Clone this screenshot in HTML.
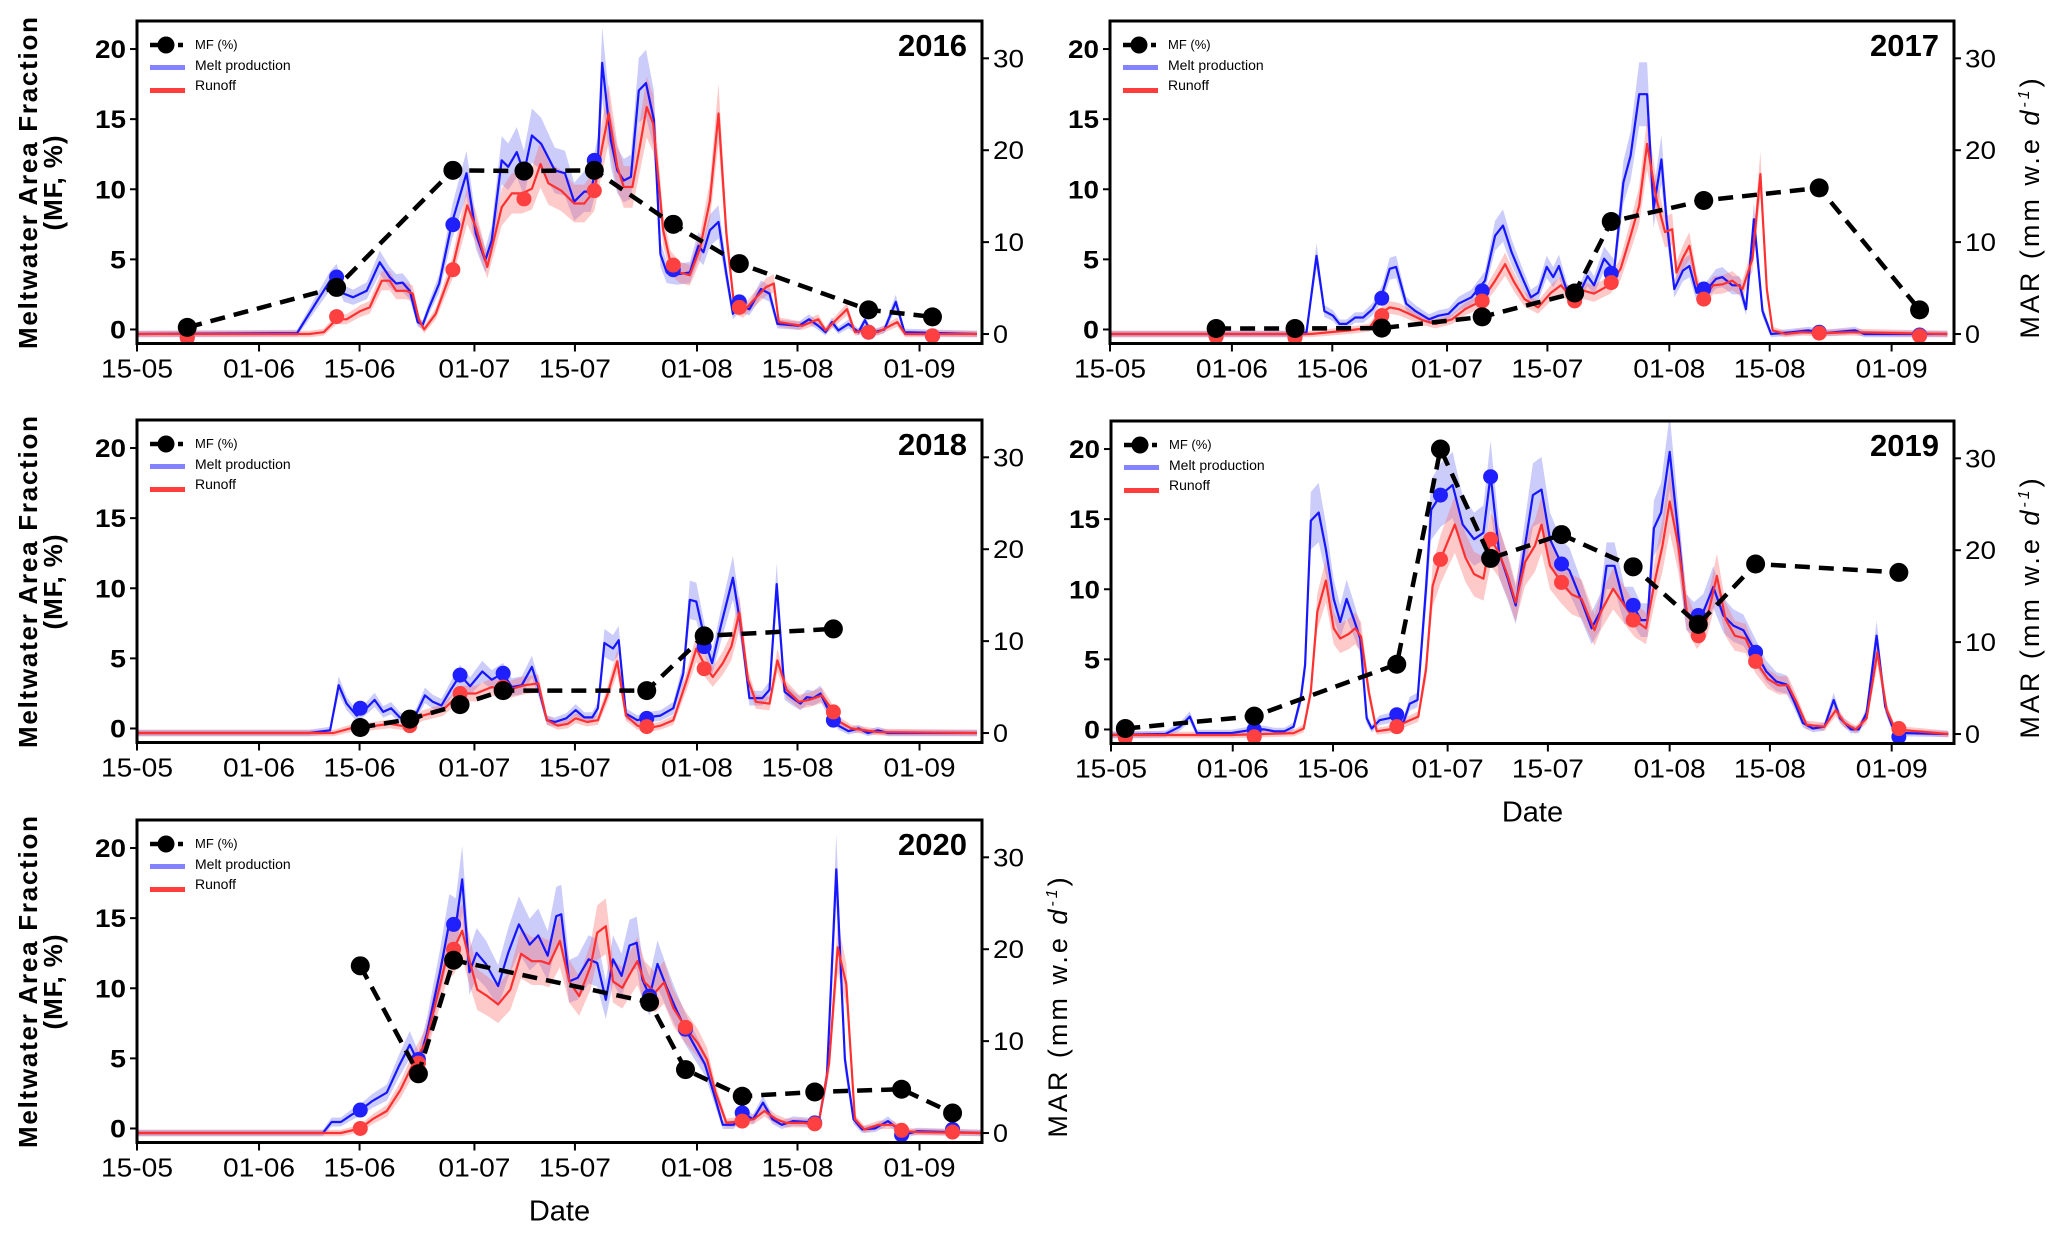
<!DOCTYPE html>
<html><head><meta charset="utf-8">
<style>
html,body{margin:0;padding:0;background:#fff;}
svg{display:block;font-family:"Liberation Sans",Arial,sans-serif;}
</style></head>
<body>
<svg id="fig" width="2067" height="1244" viewBox="0 0 2067 1244" xmlns="http://www.w3.org/2000/svg"></svg>
<script>
// ---------- data (days since 15 May; MAR in mm w.e. d-1; MF in %) ----------
const xTickDays = [0,17,31,47,61,78,92,109];
const xTickLabels = ["15-05","01-06","15-06","01-07","15-07","01-08","15-08","01-09"];
const leftTicks = [0,5,10,15,20];
const rightTicks = [0,10,20,30];

const melt2016Days = [0,22.3,25.1,26.9,27.8,28.8,30.1,32,33.8,35.2,36.1,37,38,39.1,39.8,40.7,42.1,43.9,45.9,47.2,48.5,49.4,50.8,51.7,52.9,53.9,55,56.3,58.2,59.6,60.9,62.3,63.2,64.2,64.8,66,66.9,67.8,68.8,69.9,70.9,72,72.9,73.8,75.2,77,78.2,78.9,79.8,81,82.1,83,83.9,85.3,86.9,88.1,89.2,92.2,93.6,94.9,95.9,96.8,97.7,99.1,100.5,101.4,102.3,104.1,105.7,106.9,117];
const melt2016 = [0,0.1,3.6,5.8,6.5,4.4,4,4.7,7.8,6.2,5.5,5.6,4.7,1.3,1,2.9,5.5,12.2,17.5,10.9,8,10.2,18.9,18.2,19.8,17.5,21.6,20.7,17.8,17.5,14.4,15.5,15.5,18.9,29.5,21.1,17.8,16.7,17.1,26.5,27.3,23.3,8.7,6.7,6.5,6.7,9.6,8.9,11.3,12.2,6.5,2.2,3.1,2.7,4.9,4.4,1.1,0.9,1.6,0.9,0.2,1.3,0.4,1.1,0.2,1.5,0.1,0.5,3.5,0.2,0];
const runoff2016Days = [0,24,26,27.8,29.2,31.1,32.4,34.1,35.2,36.1,37.5,38.4,39.3,40,41.6,43.9,46,47.2,48.8,50.8,52.2,53.6,55,56.2,57.3,59.1,60.9,62.3,63.7,64.8,65.7,66.9,67.8,69,70.1,71,71.9,73.3,74.3,75.6,77,78.4,79.8,81,82.1,83.2,84.4,85.8,87.6,88.7,89.4,92.6,94.9,95.9,98.9,100,101.4,103.2,105.9,107,117];
const runoff2016 = [0,0,0.2,1.6,1.6,2.5,2.9,5.8,5.8,4.7,4.7,4.4,1.5,0.5,2.2,7.1,14,11.6,7.3,13.8,15.3,15.3,15.8,18.5,16.4,15.6,14.2,14.2,15.6,20.4,24,18.2,16,16,20.7,24.7,22.9,11.3,7.8,6.7,6.4,9.3,14.5,24,10.9,2.9,2.4,3.6,5.1,5.5,1.3,0.9,1.6,0.4,2.7,0.2,0.4,0.2,1.3,0,0];
const mf2016Days = [7,27.8,44,53.9,63.7,74.7,83.9,101.9,110.8];
const mf2016 = [0.15,3,11.35,11.3,11.35,7.5,4.7,1.4,0.9];
const meltDots2016 = [-0.4,6.2,11.9,17.5,18.9,7,3.5,0.2,-0.2];
const runoffDots2016 = [-0.4,1.9,7,14.7,15.6,7.5,2.9,0.2,-0.2];

const melt2017Days = [0,26,27.4,28.8,29.9,31.1,32,33,34.2,35.3,36.6,38,39,39.9,41.3,42.6,44.5,45.8,47.2,48.6,50.4,52.3,53.7,54.8,56,57.4,58.7,59.7,60.9,61.8,62.6,63.8,65.2,66.6,67.5,68.9,70.3,71.6,72.6,73.8,74.9,75.8,76.9,77.6,78.7,79.9,80.8,81.8,83.1,84.5,85.4,86.8,87.8,88.7,89.8,91,92.2,95.1,97.4,99.7,103.9,105.2,116.8];
const melt2017 = [0,0,0.2,8.5,2.5,2,1.1,1.1,1.8,1.8,2.7,4.5,7.1,7.3,3.3,2.5,1.6,2,2.2,3.3,4,5.8,10.7,11.8,8.9,6.3,4,4.5,7.3,6.2,7.4,4.5,4,6.3,5.3,8.2,6.9,16.5,19.4,26.1,26.1,13.6,19,12.5,4.9,6.9,7.4,4.5,4.7,6,6.2,5.3,5.3,2.7,12.5,2.5,0,0.2,0.4,0.1,0.4,0,0];
const runoff2017Days = [0,28,33.4,36.2,37.6,39,40.3,41.7,43.6,45.4,47.7,49.5,51.8,53.7,55.1,56.4,57.8,59.7,61.5,62.9,64.3,66.1,67.5,69.8,71.2,72.6,73.8,74.9,76.2,77.4,78.4,79,79.9,80.8,81.8,82.7,84.1,85.4,86.8,88.2,89.6,90.7,91.6,92.4,94.2,96.5,99.7,103.4,116.8];
const runoff2017 = [0,0,0.4,0.7,2.2,2.9,2.7,2.2,1.5,1.1,1.6,2.7,3.6,5.8,7.6,5.6,3.8,2.9,4.5,5.3,4,4.7,4.4,5.4,7.1,10.7,14,20.7,14.7,11.1,11.4,6.7,8.3,9.6,5.6,3.8,5.3,5.4,5.8,4.9,8.2,17.4,4.9,0.4,0,0.2,0.1,0.2,0];
const mf2017Days = [14.8,25.8,37.9,51.9,64.8,69.9,82.8,98.9,112.9];
const mf2017 = [0.07,0.07,0.1,0.9,2.6,7.7,9.2,10.1,1.4];
const meltDots2017 = [-0.2,-0.3,3.9,4.7,4,6.6,4.9,0.2,-0.1];
const runoffDots2017 = [-0.3,-0.4,2,3.6,3.6,5.6,3.8,0.1,-0.2];

const melt2018Days = [0,24,26.9,28.1,29.2,30.6,31.7,33.1,34.3,35.4,36.6,38,38.9,40.1,41.2,42.4,43.7,45,46.4,48.1,49.4,51,52.2,53.6,55,55.9,57.1,58.2,59.8,61.1,62.3,63.4,64.2,65.1,66.3,67.1,68.1,69.7,71,72.9,74.7,76.1,77,77.9,79.2,80.1,81.3,83,84.1,85.3,87.1,88.1,89.1,90.2,91.3,92.4,93.3,94.2,95.2,96.3,97.7,99.1,100.5,101.8,103.2,104.6,117];
const melt2018 = [0,0,0.3,5.2,3.2,1.9,2.5,3.6,2.3,2.7,1.7,1.4,2.1,4.1,3.4,3,4.7,6.3,5.1,6.7,5.8,6.5,5,5.2,7.2,5,1.4,1.2,1.6,2.5,1.7,1.7,2.7,9.8,9.2,10.1,2.1,1.4,1.7,1.9,2.7,6.5,14.5,14.3,9.8,7.6,11.6,16.9,11.6,3.8,3.8,4.7,16.2,4.5,3.8,3.2,3.9,3.8,4.3,2.5,0.8,0.2,0.5,0,0.3,0,0];
const runoff2018Days = [0,27.4,29.7,32.4,35.2,37.5,39.8,42.6,45,47.2,49.4,51.7,54,55.9,57.1,58.6,60,61.1,62.7,64.2,65.5,66.9,68.1,69.7,71,72.9,74.7,76.6,77.9,79.2,80.2,81.6,82.8,83.9,85.1,86.2,88.1,89.2,90.5,92.2,93.6,95.4,96.6,97.9,99.5,103.2,117];
const runoff2018 = [0,0,0.5,0.7,1,0.7,1.9,2.5,4.3,4.3,5,4.7,5.2,5.4,1.4,0.8,1,1.6,1.2,1.4,4.1,7.8,1.9,0.8,0.5,0.8,1.4,5.8,9.2,7.2,6.1,7.6,9.4,13.1,5.8,3.4,3.2,7.9,4.7,3.4,3.6,4.1,2.8,1.2,0.5,0.1,0];
const mf2018Days = [31.1,38,45,51,71,79,97];
const mf2018 = [0.07,0.67,1.7,2.7,2.7,6.6,7.1];
const meltDots2018 = [2.7,1.4,6.3,6.5,1.6,9.4,1.4];
const runoffDots2018 = [0.4,0.8,4.3,5,0.7,7,2.3];

const melt2019Days = [0,7.6,9.6,11,12,16.8,20,21.4,22.8,24.2,25.5,26.5,27.1,27.9,29,30,31.1,32,32.9,33.9,34.8,35.7,36.4,37.5,39.9,40.8,41.7,42.8,44,44.7,46,47.7,49.1,50.7,52,53,54.2,55.4,56.5,57.8,58.9,60.1,61.3,62.9,64,65.5,67.1,68.3,69.2,70.3,71.7,72.9,74,74.9,75.8,76.8,78,79.1,80.3,81.4,82.7,84.1,85.5,86.9,88.3,90,91.5,92.9,94.3,95.4,96.6,98,99.6,100.9,101.8,103.3,104.4,105.5,106.9,108.1,109.5,110.9,116.9];
const melt2019 = [-0.1,0,0.8,1.9,0.1,0.1,0.5,0.5,0.3,0.3,0.8,3.9,7.5,23.2,24.1,20.1,14.7,12.2,14.7,12.5,10.4,1.7,0.6,1.5,1.9,1.2,3.3,3.7,16,24.4,26,27.1,22.8,21.2,21.9,28.2,19.7,16.9,14,20.5,26,26.6,21.2,18.5,17.8,14.9,11.5,13.3,18.3,18.3,14,14,12.4,12.4,22.4,24.1,30.7,22.6,13.3,12.5,13.3,16,12.9,11.8,11.3,8.9,6.8,5.7,5.4,3.5,1.2,0.6,0.8,3.7,1.7,0.5,0.5,2.3,10.7,3,-0.1,0.1,0];
const runoff2019Days = [0,16.8,25.5,26.9,27.9,28.8,30,31.1,32,33.2,34.1,34.9,36,37.1,38.9,40.3,42.9,44,44.9,46,48,49.5,50.7,52,53,54.2,55.4,56.5,57.8,59.2,60.1,61.3,62.9,64.3,65.7,67.5,68.4,70.1,71.7,73.1,74.7,76,77,78,79.2,80.4,81.8,83.2,84.6,85.8,87.1,88.6,90,91.7,93.2,94.5,95.7,97.1,99.6,101.2,102.4,104,105.5,107,108.3,109.5,116.9];
const runoff2019 = [-0.1,-0.1,0.1,0.6,4.6,13.3,16.7,11.5,10.4,10.9,11.5,10.6,4.6,0.3,0.5,1,1.9,7.1,16.1,19,22.8,19.2,17.4,16.9,21.2,19.7,17.2,14.3,18.7,20.5,22.8,18.3,16.5,15.2,14.7,11.3,13.3,15.8,14,12.4,11.5,16.9,20.5,25.3,20.5,13.3,10.9,12.5,17.2,12.5,10.7,10.4,7.9,6,5.3,5.3,3.5,1,0.8,2.6,1.2,0.5,1.7,8.9,2.6,0.5,0];
const mf2019Days = [2,20,39.9,46,53,62.9,72.9,82,90,110];
const mf2019 = [0.07,0.95,4.65,20,12.2,13.9,11.6,7.5,11.8,11.2];
const meltDots2019 = [-0.3,0.5,2.1,26,28,18.5,14,12.9,8.9,-0.3];
const runoffDots2019 = [-0.4,-0.3,0.8,19,21.2,16.5,12.4,10.7,7.9,0.6];

const melt2020Days = [0,25.9,27.1,28.4,29.9,31.1,32.8,34.8,36.5,38,39.2,40.4,42.2,43.5,44.4,45.3,46.3,47.3,48.6,50.3,51.7,53.2,54.7,55.9,57.2,58.4,59.1,60.2,61.4,62.9,64.1,65.3,66.3,67.5,68.6,69.6,70.4,71.4,72.5,73.7,74.9,76.4,77.6,79.1,80.3,81.6,83.1,84.3,85.8,87.2,88.5,89.8,91.4,93.3,94.9,96.1,97.4,98.6,99.8,101,102.8,104.6,105.9,106.7,108.7,117.5];
const melt2020 = [0,0,1.2,1.2,2,2.5,3.5,4.4,7.3,9.6,7.6,10.9,17.5,22.9,22.5,27.6,17.5,19.6,18.4,16,19.6,22.7,20.5,21.5,19.3,23.6,23.8,16.5,16.9,18.9,18.5,14.5,18.9,17.1,20.4,20.7,16.7,14.9,18.4,16,13.8,11.3,9.6,7.5,4.4,0.9,0.9,2.2,1.5,3.3,1.5,0.9,1.3,1.2,0.9,6.2,28.7,8,1.5,0.4,0.5,1.3,0.5,-0.2,0.2,0];
const runoff2020Days = [0,28.4,31.1,32.8,34.8,36.7,38.5,40.2,41.7,43.2,44.1,45.3,46.4,47.4,48.8,50.3,52,53.5,55,56.3,57.4,58.9,60.2,61.6,63.2,64.1,65.3,66.3,67.6,68.8,69.7,70.7,72.2,73.4,74.7,76.4,78.1,79.4,80.6,82.1,84.3,85.9,87.4,89,90.4,92.9,94.9,96.4,97.6,98.8,100,101.3,103.3,105.3,106.9,108.7,117.5];
const runoff2020 = [0,0,0.5,1.5,2.4,4.7,7.6,9.8,14.5,19.3,20,22,18.5,15.6,14.9,14,15.6,19.5,18.7,18.7,18.4,20.9,16.5,14.9,18.2,21.8,22.5,16.5,15.8,17.5,18.7,16.4,15.3,16.4,13.6,11.5,9.8,8,4.4,1.1,1.3,1.5,2.4,1.5,1.1,1.1,0.9,7.6,20.2,16.2,1.5,0.4,0.9,0.9,0.2,0.1,0];
const mf2020Days = [31.1,39.2,44.1,71.4,76.4,84.3,94.4,106.5,113.6];
const mf2020 = [11.6,3.9,12,9,4.2,2.3,2.6,2.8,1.1];
const meltDots2020 = [2.5,8,22.7,14.9,11.3,2.2,1.1,-0.2,0.4];
const runoffDots2020 = [0.5,7.6,20,14.5,11.5,1.3,1,0.3,0.1];

// ---------- layout ----------
const NS = "http://www.w3.org/2000/svg";
const svg = document.getElementById('fig');
const X_MIN = 0, X_MAX = 117.7, L_MIN = -1, L_MAX = 22, R_MIN = -1.03, R_MAX = 34.06;
const PH = 322.5;
const panels = [
  {year:"2016", x0:137, x1:982, y0:21, leftLabel:true, rightLabel:false, dateLabel:false,
   md:melt2016Days, m:melt2016, rd:runoff2016Days, r:runoff2016, fd:mf2016Days, f:mf2016, mdots:meltDots2016, rdots:runoffDots2016},
  {year:"2017", x0:1110, x1:1954, y0:21, leftLabel:false, rightLabel:true, dateLabel:false,
   md:melt2017Days, m:melt2017, rd:runoff2017Days, r:runoff2017, fd:mf2017Days, f:mf2017, mdots:meltDots2017, rdots:runoffDots2017},
  {year:"2018", x0:137, x1:982, y0:420, leftLabel:true, rightLabel:false, dateLabel:false,
   md:melt2018Days, m:melt2018, rd:runoff2018Days, r:runoff2018, fd:mf2018Days, f:mf2018, mdots:meltDots2018, rdots:runoffDots2018},
  {year:"2019", x0:1111, x1:1954, y0:421, leftLabel:false, rightLabel:true, dateLabel:true,
   md:melt2019Days, m:melt2019, rd:runoff2019Days, r:runoff2019, fd:mf2019Days, f:mf2019, mdots:meltDots2019, rdots:runoffDots2019},
  {year:"2020", x0:137, x1:982, y0:820, leftLabel:true, rightLabel:true, dateLabel:true,
   md:melt2020Days, m:melt2020, rd:runoff2020Days, r:runoff2020, fd:mf2020Days, f:mf2020, mdots:meltDots2020, rdots:runoffDots2020}
];

function mk(tag, attrs, parent){
  const e = document.createElementNS(NS, tag);
  for (const k in attrs) e.setAttribute(k, attrs[k]);
  (parent||svg).appendChild(e);
  return e;
}

panels.forEach(p => {
  const g = mk('g', {});
  
  
  const xs = d => p.x0 + (d - X_MIN) / (X_MAX - X_MIN) * (p.x1 - p.x0);
  const yl = v => p.y0 + (L_MAX - v) / (L_MAX - L_MIN) * PH;
  const yr = v => p.y0 + (R_MAX - v) / (R_MAX - R_MIN) * PH;
  const yb = p.y0 + PH;

  const cid = 'clip' + p.year;
  const cp = mk('clipPath', {id:cid}, g);
  mk('rect', {x:p.x0, y:p.y0, width:p.x1-p.x0, height:PH}, cp);
  const plot = mk('g', {'clip-path':'url(#'+cid+')'}, g);

  function band(days, vals, color, name){
    let up = [], dn = [];
    days.forEach((d,i)=>{
      const v = vals[i], w = Math.abs(v)*0.12 + 0.35;
      up.push(xs(d).toFixed(1)+','+yr(v+w).toFixed(1));
      dn.unshift(xs(d).toFixed(1)+','+yr(v-w).toFixed(1));
    });
    const b = mk('polygon', {points: up.concat(dn).join(' '), fill: color, stroke:'none'}, plot);
    
    
  }
  function line(days, vals, color, name){
    const pts = days.map((d,i)=> xs(d).toFixed(1)+','+yr(vals[i]).toFixed(1)).join(' ');
    const l = mk('polyline', {points:pts, fill:'none', stroke:color, 'stroke-width':2.2, 'stroke-linejoin':'round'}, plot);
    
    
  }
  band(p.md, p.m, 'rgba(110,110,240,0.35)', 'melt-band-' + p.year);
  band(p.rd, p.r, 'rgba(250,100,100,0.35)', 'runoff-band-' + p.year);
  line(p.md, p.m, '#1616ff', 'melt-line-' + p.year);
  line(p.rd, p.r, '#ff3030', 'runoff-line-' + p.year);

  p.fd.forEach((d,i)=>{
    const c1 = mk('circle', {cx:xs(d), cy:yr(p.mdots[i]), r:7.5, fill:'#2020ff'}, plot);
    
    
    const c2 = mk('circle', {cx:xs(d), cy:yr(p.rdots[i]), r:7.5, fill:'#ff4040'}, plot);
    
    
  });
  const mfp = p.fd.map((d,i)=> xs(d).toFixed(1)+','+yl(p.f[i]).toFixed(1)).join(' ');
  const mfl = mk('polyline', {points:mfp, fill:'none', stroke:'#000', 'stroke-width':4.5, 'stroke-dasharray':'15 9'}, plot);
  
  
  p.fd.forEach((d,i)=>{
    const c = mk('circle', {cx:xs(d), cy:yl(p.f[i]), r:9.5, fill:'#000'}, plot);
    
    
  });

  const fr = mk('rect', {x:p.x0, y:p.y0, width:p.x1-p.x0, height:PH, fill:'none', stroke:'#000', 'stroke-width':3}, g);
  
  

  leftTicks.forEach(t=>{
    mk('line', {x1:p.x0-7, x2:p.x0, y1:yl(t), y2:yl(t), stroke:'#000', 'stroke-width':2}, g);
    const tx = mk('text', {x:p.x0-11, y:yl(t)+9, 'text-anchor':'end', 'font-size':25, 'font-weight':'bold', fill:'#000', textLength:(t>=10?31:16), lengthAdjust:'spacingAndGlyphs'}, g);
    tx.textContent = String(t);
    
    
  });
  rightTicks.forEach(t=>{
    mk('line', {x1:p.x1, x2:p.x1+7, y1:yr(t), y2:yr(t), stroke:'#000', 'stroke-width':2}, g);
    const tx = mk('text', {x:p.x1+11, y:yr(t)+9, 'text-anchor':'start', 'font-size':25, fill:'#000', textLength:(t>=10?31:15), lengthAdjust:'spacingAndGlyphs'}, g);
    tx.textContent = String(t);
    
    
  });
  xTickDays.forEach((d,i)=>{
    mk('line', {x1:xs(d), x2:xs(d), y1:yb, y2:yb+8, stroke:'#000', 'stroke-width':2}, g);
    const tx = mk('text', {x:xs(d), y:yb+34, 'text-anchor':'middle', 'font-size':26, fill:'#000', textLength:72, lengthAdjust:'spacingAndGlyphs'}, g);
    tx.textContent = xTickLabels[i];
    
    
  });

  const yt = mk('text', {x:p.x1-15, y:p.y0+35, 'text-anchor':'end', 'font-size':31, 'font-weight':'bold', fill:'#000'}, g);
  yt.textContent = p.year;
  
  

  const lg = mk('g', {}, g);
  
  
  const lx = p.x0 + 13, ly = p.y0;
  mk('line', {x1:lx, x2:lx+33, y1:ly+24, y2:ly+24, stroke:'#000', 'stroke-width':4.5, 'stroke-dasharray':'9 5'}, lg);
  mk('circle', {cx:lx+16, cy:ly+24, r:8.5, fill:'#000'}, lg);
  mk('rect', {x:lx, y:ly+44, width:35, height:5, fill:'rgba(100,100,255,0.8)'}, lg);
  mk('rect', {x:lx, y:ly+67, width:35, height:5, fill:'rgba(255,40,40,0.9)'}, lg);
  const t1 = mk('text', {x:lx+45, y:ly+28, 'font-size':13, fill:'#000'}, lg); t1.textContent = 'MF (%)';
  
  
  const t2 = mk('text', {x:lx+45, y:ly+49, 'font-size':14, fill:'#000'}, lg); t2.textContent = 'Melt production';
  
  
  const t3 = mk('text', {x:lx+45, y:ly+69, 'font-size':14, fill:'#000'}, lg); t3.textContent = 'Runoff';
  
  

  if (p.leftLabel){
    const cy = p.y0 + 162;
    const a = mk('text', {x:0, y:0, transform:'translate(37,'+cy+') rotate(-90)', 'text-anchor':'middle', 'font-size':26, 'font-weight':'bold', fill:'#000', textLength:332, lengthAdjust:'spacing'}, g);
    a.textContent = 'Meltwater Area Fraction';
    
    
    const b = mk('text', {x:0, y:0, transform:'translate(62,'+cy+') rotate(-90)', 'text-anchor':'middle', 'font-size':26, 'font-weight':'bold', fill:'#000', textLength:95, lengthAdjust:'spacing'}, g);
    b.textContent = '(MF, %)';
    
    
  }
  if (p.rightLabel){
    const cx = p.x1 + 85, cy = p.y0 + 186;
    const a = mk('text', {x:0, y:0, transform:'translate('+cx+','+cy+') rotate(-90)', 'text-anchor':'middle', 'font-size':27, fill:'#000', 'letter-spacing':'3'}, g);
    
    
    const s1 = document.createElementNS(NS,'tspan'); s1.textContent = 'MAR (mm w.e '; a.appendChild(s1);
    const s2 = document.createElementNS(NS,'tspan'); s2.setAttribute('font-style','italic'); s2.textContent = 'd'; a.appendChild(s2);
    const s3 = document.createElementNS(NS,'tspan'); s3.setAttribute('font-style','italic'); s3.setAttribute('font-size','16'); s3.setAttribute('dy','-10'); s3.textContent = '-1'; a.appendChild(s3);
    const s4 = document.createElementNS(NS,'tspan'); s4.setAttribute('dy','10'); s4.textContent = ')'; a.appendChild(s4);
  }
  if (p.dateLabel){
    const dt = mk('text', {x:(p.x0+p.x1)/2, y:yb+78, 'text-anchor':'middle', 'font-size':29, fill:'#000'}, g);
    dt.textContent = 'Date';
    
    
  }
});
</script>
</body></html>
